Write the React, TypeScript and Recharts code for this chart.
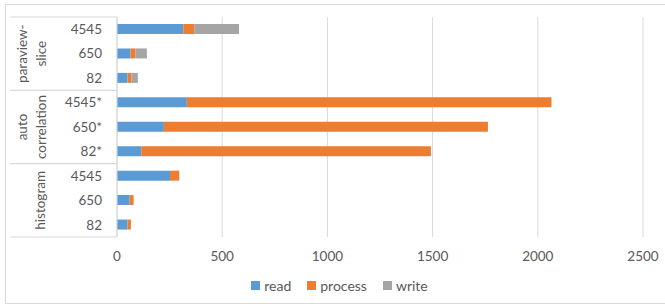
import { BarChart, Bar, XAxis, YAxis, CartesianGrid, Legend } from "recharts";

// rows top to bottom
const sizeLabels = ["4545", "650", "82", "4545*", "650*", "82*", "4545", "650", "82"];
const groupOf = [0, 0, 0, 1, 1, 1, 2, 2, 2];
const groupLines = [["paraview-", "slice"], ["auto", "correlation"], ["histogram"]];

const readVals = [315, 64, 50, 332, 223, 115, 252, 60, 50];
const processVals = [52, 24, 19, 1733, 1540, 1377, 44, 19, 16];
const writeVals = [213, 54, 30, 0, 0, 0, 0, 0, 0];

const xTicks = [0, 500, 1000, 1500, 2000, 2500];

const COLORS = { read: "#5B9BD5", process: "#ED7D31", write: "#A5A5A5" };
const TEXT = "#595959";
const LINE = "#D9D9D9";
const FONT = "Lato, 'Open Sans', sans-serif";

const data = sizeLabels.map((s, i) => ({
  key: "r" + i,
  label: s,
  read: readVals[i],
  process: processVals[i],
  write: writeVals[i],
}));

function CategoryTick(props: any) {
  const { x, y, payload, index } = props;
  const i = index ?? payload.index;
  const half = payload.offset || 12.2;
  const g = groupOf[i];
  const first = i === 0 || groupOf[i - 1] !== g;
  const last = i === groupOf.length - 1 || groupOf[i + 1] !== g;
  const middle = groupOf[i - 1] === g && groupOf[i + 1] === g;
  const axisX = x + 15;
  const lines = groupLines[g];
  return (
    <g>
      <text
        x={x}
        y={y}
        dy="0.35em"
        textAnchor="end"
        fill={TEXT}
        fontSize={13.5}
        fontFamily={FONT}
      >
        {sizeLabels[i]}
      </text>
      {first && <line x1={10} x2={axisX} y1={y - half} y2={y - half} stroke={LINE} />}
      {last && <line x1={10} x2={axisX} y1={y + half} y2={y + half} stroke={LINE} />}
      {middle &&
        lines.map((t, k) => {
          const cx = lines.length === 1 ? 40 : 22 + k * 19;
          return (
            <text
              key={k}
              x={cx}
              y={y}
              dy="0.35em"
              textAnchor="middle"
              transform={`rotate(-90 ${cx} ${y})`}
              fill={TEXT}
              fontSize={13.5}
              fontFamily={FONT}
            >
              {t}
            </text>
          );
        })}
    </g>
  );
}

function LegendContent() {
  const items: [string, string][] = [
    ["read", COLORS.read],
    ["process", COLORS.process],
    ["write", COLORS.write],
  ];
  return (
    <div
      style={{
        display: "flex",
        justifyContent: "center",
        alignItems: "center",
        height: 20,
        fontFamily: FONT,
        fontSize: 14,
        color: TEXT,
        paddingLeft: 52,
      }}
    >
      {items.map(([name, c]) => (
        <span key={name} style={{ display: "flex", alignItems: "center", marginRight: 16 }}>
          <span style={{ width: 9, height: 9, background: c, display: "inline-block", marginRight: 4 }} />
          {name}
        </span>
      ))}
    </div>
  );
}

export default function App() {
  return (
    <div style={{ position: "absolute", left: 0, top: 0, width: 665, height: 307, background: "#fff" }}>
      <div
        style={{
          position: "absolute",
          left: 5,
          top: 4,
          width: 665,
          height: 298,
          borderTop: `1px solid ${LINE}`,
          borderLeft: `1px solid ${LINE}`,
          borderBottom: `1px solid ${LINE}`,
        }}
      />
      <BarChart
        width={665}
        height={307}
        data={data}
        layout="vertical"
        margin={{ top: 17, right: 22, bottom: 12, left: 0 }}
        barSize={10}
      >
        <CartesianGrid horizontal={false} stroke={LINE} />
        <XAxis
          type="number"
          domain={[0, 2500]}
          ticks={xTicks}
          axisLine={false}
          tickLine={false}
          tickSize={0}
          tickMargin={14}
          height={38}
          tick={{ fill: TEXT, fontSize: 13.5, fontFamily: FONT }}
        />
        <YAxis
          type="category"
          dataKey="key"
          width={117}
          axisLine={{ stroke: LINE }}
          tickLine={false}
          tickSize={0}
          tickMargin={15}
          interval={0}
          tick={<CategoryTick />}
        />
        <Legend verticalAlign="bottom" height={20} content={<LegendContent />} />
        <Bar dataKey="read" stackId="a" fill={COLORS.read} isAnimationActive={false} />
        <Bar dataKey="process" stackId="a" fill={COLORS.process} isAnimationActive={false} />
        <Bar dataKey="write" stackId="a" fill={COLORS.write} isAnimationActive={false} />
      </BarChart>
    </div>
  );
}
